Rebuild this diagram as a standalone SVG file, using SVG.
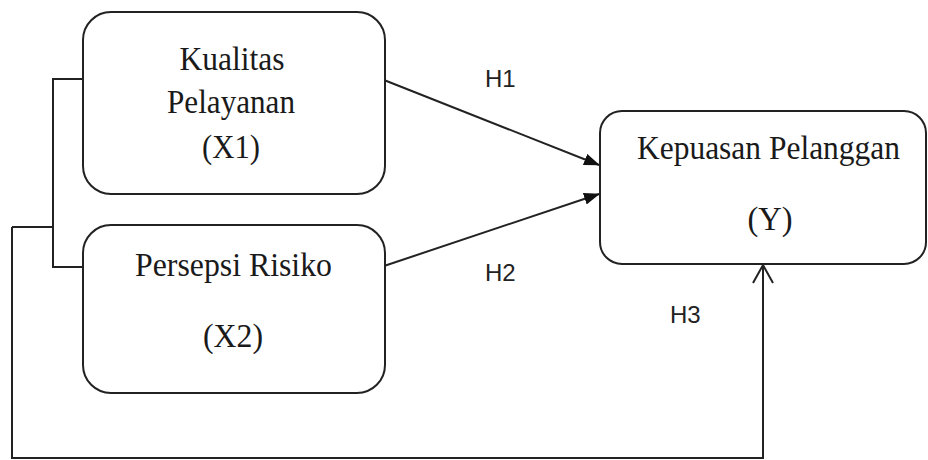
<svg xmlns="http://www.w3.org/2000/svg" width="928" height="460" viewBox="0 0 928 460">
<style>
.box{fill:#fff;stroke:#222;stroke-width:2}
.t{font-family:"Liberation Serif","Times New Roman",serif;font-size:34px;fill:#1a1a1a;text-anchor:middle}
.h{font-family:"Liberation Sans",Arial,sans-serif;font-size:24px;fill:#222}
.ln{fill:none;stroke:#222;stroke-width:2}
</style>
<defs>
<marker id="arr" markerWidth="16" markerHeight="12" refX="15" refY="6" orient="auto" markerUnits="userSpaceOnUse">
<path d="M0,0 L16,6 L0,12 Z" fill="#111"/>
</marker>
</defs>
<rect width="928" height="460" fill="#fff"/>
<g id="connectors">
<path class="ln" d="M83,79 H53 V267 H83"/>
<path class="ln" d="M12,227 H53"/>
<path class="ln" d="M12,227 V458 H763 V265"/>
<path class="ln" d="M753,283 L763,265 L773,283"/>
<line class="ln" x1="384" y1="80" x2="599" y2="165" marker-end="url(#arr)"/>
<line class="ln" x1="384" y1="266" x2="599" y2="194" marker-end="url(#arr)"/>
<text class="h" x="485" y="87">H1</text>
<text class="h" x="485" y="281">H2</text>
<text class="h" x="670" y="323">H3</text>
</g>
<g id="node-x1">
<rect class="box" x="83" y="12" width="302" height="182" rx="28"/>
<text class="t" x="232" y="70" textLength="105" lengthAdjust="spacingAndGlyphs">Kualitas</text>
<text class="t" x="231" y="113" textLength="128" lengthAdjust="spacingAndGlyphs">Pelayanan</text>
<text class="t" x="231" y="158" textLength="58" lengthAdjust="spacingAndGlyphs">(X1)</text>
</g>
<g id="node-x2">
<rect class="box" x="83" y="225" width="302" height="168" rx="28"/>
<text class="t" x="233.5" y="276" textLength="197" lengthAdjust="spacingAndGlyphs">Persepsi Risiko</text>
<text class="t" x="233" y="347" textLength="60" lengthAdjust="spacingAndGlyphs">(X2)</text>
</g>
<g id="node-y">
<rect class="box" x="600" y="111" width="326" height="153" rx="22"/>
<text class="t" x="768.5" y="159" textLength="263" lengthAdjust="spacingAndGlyphs">Kepuasan Pelanggan</text>
<text class="t" x="770" y="230" textLength="45" lengthAdjust="spacingAndGlyphs">(Y)</text>
</g>
</svg>
